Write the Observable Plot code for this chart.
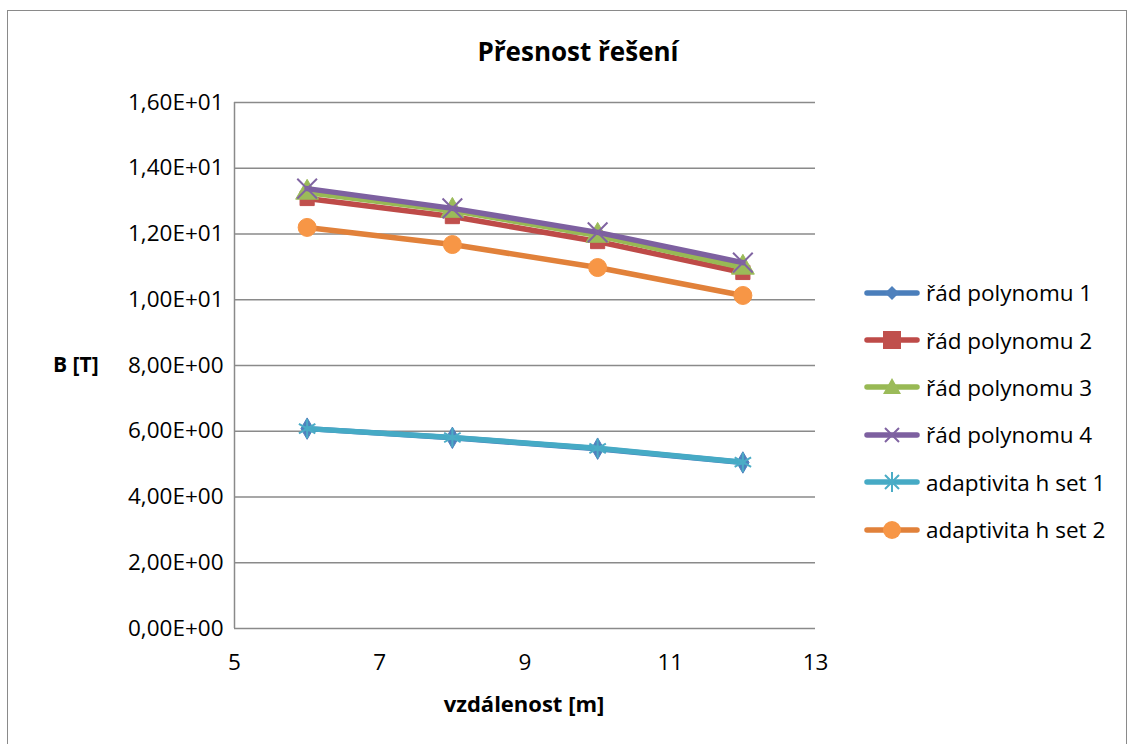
<!DOCTYPE html>
<html>
<head>
<meta charset="utf-8">
<script src="https://cdn.jsdelivr.net/npm/d3@7"></script>
<script src="https://cdn.jsdelivr.net/npm/@observablehq/plot@0.6"></script>
<style>
  html, body { margin: 0; padding: 0; background: #fff; }
  #wrap { position: relative; width: 1133px; height: 744px; overflow: hidden; font-family: "Open Sans", sans-serif; color: #000; }
  #frame { position: absolute; left: 7px; top: 10px; width: 1120px; height: 760px; border: 1.5px solid #8a8a8a; box-sizing: border-box; }
  #chart { position: absolute; left: 0; top: 0; }
  .lbl { position: absolute; font-weight: bold; white-space: nowrap; line-height: 1; }
  #title { left: 0; width: 1156px; text-align: center; top: 38px; font-size: 26px; }
  #xlab { left: 0; width: 1048px; text-align: center; top: 692px; font-size: 22px; }
  #ylab { left: 53px; top: 354px; font-size: 21px; }
  #legend { position: absolute; left: 864px; top: 269px; }
  .row { display: flex; align-items: center; height: 47.4px; font-size: 22.5px; }
  .row svg { margin-right: 6px; }
</style>
</head>
<body>
<div id="wrap">
  <div id="frame"></div>
  <div id="chart"></div>
  <div class="lbl" id="title">Přesnost řešení</div>
  <div class="lbl" id="ylab">B [T]</div>
  <div class="lbl" id="xlab">vzdálenost [m]</div>
  <div id="legend"></div>
</div>
<script>
// ---- data ----
const distances = [6, 8, 10, 12];
const seriesNames = ["řád polynomu 1", "řád polynomu 2", "řád polynomu 3", "řád polynomu 4", "adaptivita h set 1", "adaptivita h set 2"];
const poly1 = [6.08, 5.80, 5.47, 5.05];
const poly2 = [13.08, 12.53, 11.77, 10.83];
const poly3 = [13.26, 12.71, 11.95, 10.98];
const poly4 = [13.38, 12.78, 12.05, 11.13];
const hset1 = [6.08, 5.81, 5.48, 5.06];
const hset2 = [12.20, 11.68, 10.98, 10.13];
const yTicks = [0, 2, 4, 6, 8, 10, 12, 14, 16];
const xTicks = [5, 7, 9, 11, 13];

// ---- styles ----
const colors = ["#4F81BD", "#C0504D", "#9BBB59", "#8064A2", "#4BACC6", "#F79646"];
const colorsLine = ["#4A7EBB", "#BE4B48", "#98B954", "#7D60A0", "#46AAC5", "#E1813A"];
const allValues = [poly1, poly2, poly3, poly4, hset1, hset2];

const data = [];
allValues.forEach((vals, i) => vals.forEach((v, j) => data.push({series: seriesNames[i], idx: i, x: distances[j], y: v})));

const fmt = v => {
  const [m, e] = v.toExponential(2).split("e");
  const en = parseInt(e, 10);
  return m.replace(".", ",") + "E" + (en < 0 ? "-" : "+") + String(Math.abs(en)).padStart(2, "0");
};

const marks = [
  Plot.ruleY(yTicks, {stroke: "#8a8a8a", strokeWidth: 1.5}),
  Plot.ruleX([5], {stroke: "#8a8a8a", strokeWidth: 1.5}),
  Plot.axisY({ticks: yTicks, tickFormat: fmt, tickSize: 0, tickPadding: 11, fontSize: 22.5, label: null}),
  Plot.axisX({ticks: xTicks, tickFormat: d => String(d), tickSize: 0, tickPadding: 26, fontSize: 22.5, label: null})
];

const symbolSpec = [
  {symbol: "diamond", r: 6.5, fill: true},
  {symbol: "square", r: 8, fill: true},
  {symbol: "triangle", r: 8.5, fill: true},
  {symbol: "times", r: 9, fill: false},
  {symbol: "asterisk", r: 9, fill: false},
  {symbol: "circle", r: 9, fill: true}
];

seriesNames.forEach((name, i) => {
  const d = data.filter(r => r.idx === i);
  marks.push(Plot.line(d, {x: "x", y: "y", stroke: colorsLine[i], strokeWidth: 5.5, strokeLinecap: "round", strokeLinejoin: "round"}));
  const s = symbolSpec[i];
  if (s.fill) {
    marks.push(Plot.dot(d, {x: "x", y: "y", symbol: s.symbol, r: s.r, fill: colors[i], stroke: colors[i], strokeWidth: 1}));
  } else {
    marks.push(Plot.dot(d, {x: "x", y: "y", symbol: s.symbol, r: s.r, stroke: colors[i], strokeWidth: 2}));
  }
});

const chart = Plot.plot({
  width: 1133,
  height: 744,
  marginLeft: 234,
  marginRight: 318,
  marginTop: 102,
  marginBottom: 116,
  style: {fontFamily: "'Open Sans', sans-serif", fontSize: "22px", color: "#000", background: "transparent"},
  x: {domain: [5, 13]},
  y: {domain: [0, 16]},
  marks
});
document.getElementById("chart").appendChild(chart);

// ---- legend ----
const shapes = [
  (c) => `<path d="M28,4 L35,11 L28,18 L21,11 Z" fill="${c}"/>`,
  (c) => `<rect x="19" y="2" width="18" height="18" fill="${c}"/>`,
  (c) => `<path d="M28,2 L37,18 L19,18 Z" fill="${c}"/>`,
  (c) => `<path d="M21,4 L35,18 M35,4 L21,18" stroke="${c}" stroke-width="2"/>`,
  (c) => `<path d="M21,4 L35,18 M35,4 L21,18 M28,1 L28,21" stroke="${c}" stroke-width="2"/>`,
  (c) => `<circle cx="28" cy="11" r="9" fill="${c}"/>`
];
const lg = document.getElementById("legend");
seriesNames.forEach((name, i) => {
  const row = document.createElement("div");
  row.className = "row";
  row.innerHTML = `<svg width="56" height="22"><line x1="3" y1="11" x2="53" y2="11" stroke="${colorsLine[i]}" stroke-width="5.5" stroke-linecap="round"/>${shapes[i](colors[i])}</svg><span>${name}</span>`;
  lg.appendChild(row);
});
</script>
</body>
</html>
